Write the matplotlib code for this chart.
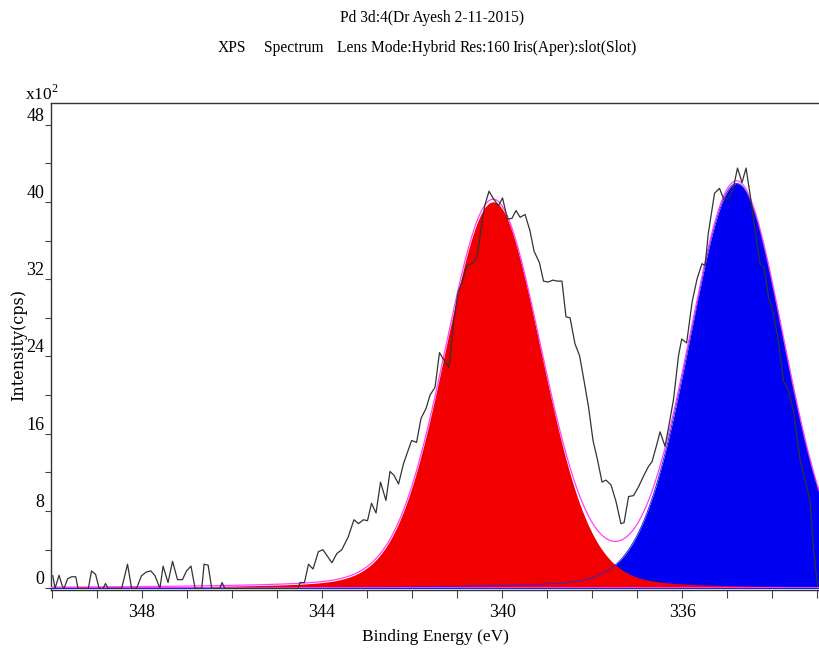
import numpy as np
import matplotlib
matplotlib.use("Agg")
import matplotlib.pyplot as plt
from matplotlib.ticker import MultipleLocator

# ---- measured spectrum (binding energy in eV, intensity in x10^2 cps) ----
energy = [
    349.98, 349.93, 349.84, 349.77, 349.73, 349.65, 349.56, 349.47, 349.42, 349.19,
    349.12, 349.03, 348.95, 348.86, 348.81, 348.75, 348.45, 348.32, 348.23, 348.12,
    348.01, 347.90, 347.80, 347.71, 347.60, 347.53, 347.42, 347.32, 347.21, 347.10,
    347.01, 346.91, 346.82, 346.67, 346.62, 346.53, 346.45, 346.27, 346.22, 346.16,
    344.53, 344.49, 344.39, 344.30, 344.20, 344.08, 343.98, 343.78, 343.67, 343.56,
    343.42, 343.29, 343.19, 343.08, 342.99, 342.90, 342.80, 342.70, 342.58, 342.49,
    342.40, 342.30, 342.19, 342.01, 341.90, 341.80, 341.69, 341.60, 341.49, 341.39,
    341.29, 341.18, 341.08, 340.98, 340.87, 340.78, 340.67, 340.56, 340.45, 340.38,
    340.29, 340.19, 340.08, 339.99, 339.88, 339.78, 339.69, 339.60, 339.49, 339.38,
    339.29, 339.17, 339.08, 338.98, 338.87, 338.78, 338.67, 338.58, 338.49, 338.38,
    338.28, 338.18, 338.08, 337.98, 337.88, 337.78, 337.69, 337.58, 337.47, 337.36,
    337.29, 337.19, 337.08, 336.97, 336.86, 336.75, 336.67, 336.58, 336.49, 336.38,
    336.30, 336.19, 336.08, 336.01, 335.90, 335.78, 335.67, 335.56, 335.49, 335.42,
    335.28, 335.17, 335.07, 334.97, 334.87, 334.77, 334.67, 334.58, 334.47, 334.38,
    334.27, 334.18, 334.08, 333.97, 333.86, 333.75, 333.64, 333.53, 333.38, 333.27,
    333.16, 333.08, 332.99,
]
counts = [
    1.3, 0.0, 1.35, 0.25, 0.0, 1.0, 1.2, 1.2, 0.0, 0.0,
    1.8, 1.45, 0.0, 0.0, 0.5, 0.0, 0.0, 2.5, 0.0, 0.0,
    1.3, 1.7, 1.8, 1.3, 0.0, 2.3, 0.6, 2.8, 0.9, 0.9,
    1.8, 2.3, 0.0, 0.0, 2.5, 2.4, 0.0, 0.0, 0.6, 0.0,
    0.0, 0.6, 0.6, 2.5, 2.0, 3.8, 4.0, 2.65, 3.6, 4.0,
    5.3, 7.1, 6.7, 7.1, 7.0, 8.8, 7.8, 11.0, 9.1, 12.1,
    11.7, 10.8, 12.9, 15.3, 15.1, 17.6, 18.6, 20.0, 20.8, 24.4,
    23.6, 22.9, 27.4, 30.6, 32.0, 33.4, 33.6, 34.2, 37.7, 39.7,
    41.1, 40.3, 39.6, 40.4, 38.2, 38.3, 39.1, 38.4, 38.7, 37.0,
    34.9, 33.7, 31.8, 31.7, 31.9, 31.8, 31.8, 28.1, 28.0, 25.3,
    24.1, 21.5, 18.8, 15.3, 13.3, 11.0, 11.2, 10.7, 9.0, 6.7,
    6.8, 9.5, 9.6, 10.5, 11.6, 12.6, 13.1, 14.6, 16.2, 14.7,
    16.7, 19.6, 24.1, 25.8, 25.4, 29.6, 32.0, 33.6, 33.4, 36.7,
    40.9, 41.4, 40.2, 40.4, 41.3, 43.5, 42.0, 43.5, 40.1, 37.0,
    33.6, 33.2, 30.1, 28.4, 25.5, 21.5, 20.5, 18.4, 13.3, 11.2,
    9.1, 4.0, 0.2,
]
assert len(energy) == len(counts)

# ---- fitted components ----
peak_centers = [340.20, 334.79]     # eV
peak_heights = [40.0, 41.9]         # x10^2 cps
peak_fwhm = [2.55, 2.50]            # eV
peak_lorentz = [0.13, 0.13]         # Lorentzian fraction
peak_colors = ["#F20000", "#0000F2"]

x_ticks = [348, 344, 340, 336]
y_ticks = [0, 8, 16, 24, 32, 40, 48]
x_range = (350.02, 332.96)
y_range = (-0.15, 50.2)

title1 = "Pd 3d:4(Dr Ayesh 2-11-2015)"
title2_parts = ["XPS", "Spectrum", "Lens Mode:Hybrid", "Res:160", "Iris(Aper):slot(Slot)"]
title2_x = [218, 264, 337, 460, 512]

plt.rcParams['font.family'] = ['Liberation Serif', 'DejaVu Serif']
plt.rcParams['mathtext.fontset'] = 'custom'
plt.rcParams['mathtext.rm'] = 'Liberation Serif'


def component(e, c, h, w, m):
    d = (e - c) / (w / 2.0)
    return h * ((1 - m) * np.exp(-np.log(2) * d ** 2) + m / (1 + d ** 2))


W, H = 819, 658
fig = plt.figure(figsize=(W / 100, H / 100), dpi=100)
ax_top, ax_bot, ax_left = 103.3, 589.8, 51
ax = fig.add_axes([ax_left / W, 1 - ax_bot / H, (W - ax_left) / W, (ax_bot - ax_top) / H])

grid = np.linspace(x_range[0], x_range[1], 2000)
red = component(grid, peak_centers[0], peak_heights[0], peak_fwhm[0], peak_lorentz[0])
blue = component(grid, peak_centers[1], peak_heights[1], peak_fwhm[1], peak_lorentz[1])

ax.fill_between(grid, 0, blue, color=peak_colors[1], lw=0, zorder=1)
ax.fill_between(grid, 0, red, color=peak_colors[0], lw=0, zorder=2)
ax.plot(grid, blue, color="#2a2ad0", lw=0.7, zorder=3)
ax.plot(grid, red + blue, color="#FF40FF", lw=0.9, zorder=4)
ax.plot(x_range, [0, 0], color="#FF40FF", lw=1.4, zorder=3.5)
ax.plot(x_range, [0, 0], color="#2020E0", lw=0.8, zorder=3.6)
ax.plot(energy, counts, color="#333333", lw=0.9, zorder=5)

ax.set_xlim(*x_range)
ax.set_ylim(*y_range)

ax.set_xticks(x_ticks)
ax.xaxis.set_minor_locator(MultipleLocator(1))
ax.set_yticks(y_ticks)
ax.yaxis.set_minor_locator(MultipleLocator(4))
ax.tick_params(axis='x', which='both', direction='out', length=6, width=0.8,
               color='#444444', labelsize=13, pad=4)
ax.tick_params(axis='y', which='both', direction='out', length=4.5, width=0.8,
               color='#444444', labelsize=13, pad=0.5)
for lab in ax.get_yticklabels():
    lab.set_verticalalignment('bottom')

for s in ['left', 'bottom', 'top']:
    ax.spines[s].set_color('#333333')
    ax.spines[s].set_linewidth(1.0)
ax.spines['right'].set_visible(False)

fig.text(432 / W, 1 - 18 / H, title1, ha='center', va='center', fontsize=11.2)
for part, px in zip(title2_parts, title2_x):
    fig.text(px / W, 1 - 48 / H, part, ha='left', va='center', fontsize=11.2)

fig.text(25 / W, 1 - 100 / H, r"x10$^{2}$", ha='left', va='baseline', fontsize=12.5)
fig.text(435 / W, 1 - 637 / H, "Binding Energy (eV)", ha='center', va='center', fontsize=12.5)
fig.text(19 / W, 1 - 345 / H, "Intensity(cps)", ha='center', va='center', rotation=90,
         fontsize=11.5, family='DejaVu Serif')

fig.savefig("out.png", dpi=100)
